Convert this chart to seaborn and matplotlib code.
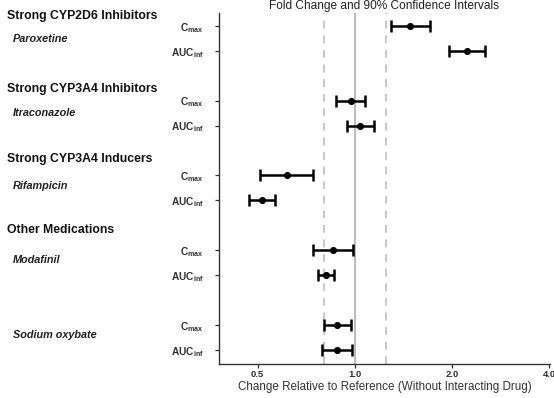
import numpy as np
import pandas as pd
import matplotlib
matplotlib.use("Agg")
import matplotlib.pyplot as plt
import matplotlib.transforms as mtransforms
import seaborn as sns

# ==================== data ====================
drugs = ["Paroxetine", "Paroxetine", "Itraconazole", "Itraconazole",
         "Rifampicin", "Rifampicin", "Modafinil", "Modafinil",
         "Sodium oxybate", "Sodium oxybate"]
params = ["Cmax", "AUCinf"] * 5
row_pos = [0, 1, 3, 4, 6, 7, 9, 10, 12, 13]

fold = [1.48, 2.23, 0.97, 1.04, 0.617, 0.516, 0.856, 0.815, 0.881, 0.881]
ci_low = [1.29, 1.96, 0.875, 0.944, 0.507, 0.471, 0.743, 0.766, 0.80, 0.791]
ci_high = [1.71, 2.53, 1.075, 1.145, 0.743, 0.564, 0.985, 0.864, 0.970, 0.98]

group_titles = ["Strong CYP2D6 Inhibitors", "Strong CYP3A4 Inhibitors",
                "Strong CYP3A4 Inducers", "Other Medications"]
group_title_pos = [-0.41, 2.54, 5.34, 8.19]
drug_names = ["Paroxetine", "Itraconazole", "Rifampicin", "Modafinil", "Sodium oxybate"]
drug_name_pos = [0.52, 3.51, 6.41, 9.40, 12.41]

ref_lines = [0.8, 1.25]
xticks = [0.5, 1.0, 2.0, 4.0]
xtick_labels = ["0.5", "1.0", "2.0", "4.0"]

df = pd.DataFrame({"drug": drugs, "param": params, "pos": row_pos,
                   "fold": fold, "lo": ci_low, "hi": ci_high})

# ==================== style ====================
sns.set_theme(style="ticks")
plt.rcParams["font.family"] = ["Liberation Sans", "DejaVu Sans"]
plt.rcParams["mathtext.fontset"] = "custom"
plt.rcParams["mathtext.rm"] = "Liberation Sans"
plt.rcParams["mathtext.bf"] = "Liberation Sans:bold"

fig = plt.figure(figsize=(5.54, 3.98), dpi=100)
ax = fig.add_axes([0.395, 0.0854, 0.598, 0.8826])

# reference lines
ax.axvline(1.0, color="#bdbdbd", lw=1.5, zorder=1)
for v in ref_lines:
    ax.axvline(v, color="#c8c8c8", lw=1.4, ls=(0, (4, 3.5)), zorder=1)

# confidence intervals
ax.errorbar(df["fold"], df["pos"],
            xerr=[df["fold"] - df["lo"], df["hi"] - df["fold"]],
            fmt="none", ecolor="black", elinewidth=1.8, capsize=4.5,
            capthick=1.8, zorder=2)
sns.scatterplot(data=df, x="fold", y="pos", color="black", s=26,
                edgecolor="black", linewidth=0, ax=ax, zorder=3, legend=False)

ax.set_xscale("log", base=2)
ax.set_xlim(0.379, 4.02)
ax.set_ylim(13.57, -0.53)
ax.set_xticks(xticks)
ax.set_xticklabels(xtick_labels, fontsize=6.8, fontweight="bold", color="#333333")
ax.minorticks_off()

ylabels = [r"$\mathbf{C}_{\mathbf{max}}$" if p == "Cmax" else r"$\mathbf{AUC}_{\mathbf{inf}}$"
           for p in params]
ax.set_yticks(row_pos)
ax.set_yticklabels(ylabels, fontsize=7.3, color="#222222")

ax.tick_params(axis="both", length=3, width=0.9, colors="#333333")
ax.tick_params(axis="y", pad=8)
ax.tick_params(axis="x", pad=1.5)
for s in ["top", "right"]:
    ax.spines[s].set_visible(False)
for s in ["left", "bottom"]:
    ax.spines[s].set_color("#333333")
    ax.spines[s].set_linewidth(1.0)

ax.set_xlabel("Change Relative to Reference (Without Interacting Drug)",
              fontsize=8.4, color="#333333", labelpad=1)
ax.set_ylabel("")
ax.set_title("Fold Change and 90% Confidence Intervals", fontsize=8.6,
             color="#222222", pad=3)

# group headers and drug names on the left
trans = mtransforms.blended_transform_factory(fig.transFigure, ax.transData)
for t, y in zip(group_titles, group_title_pos):
    ax.text(0.012, y, t, transform=trans, fontsize=8.8, fontweight="bold",
            color="#111111", va="center", ha="left", clip_on=False)
for t, y in zip(drug_names, drug_name_pos):
    ax.text(0.024, y, t, transform=trans, fontsize=7.8, fontweight="bold",
            fontstyle="italic", color="#222222", va="center", ha="left", clip_on=False)

fig.savefig("out.png", dpi=100)
